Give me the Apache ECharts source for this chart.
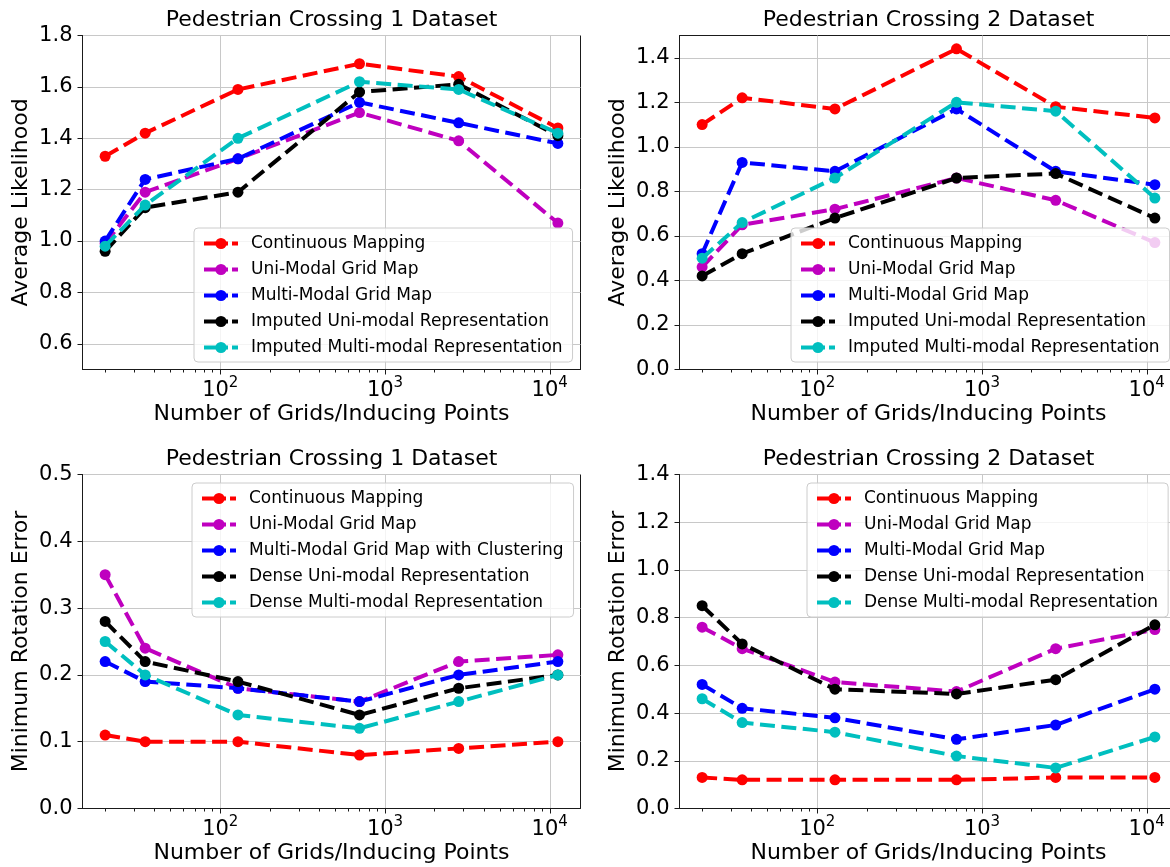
<!DOCTYPE html>
<html>
<head>
<meta charset="utf-8">
<script src="https://cdn.jsdelivr.net/npm/echarts@6/dist/echarts.min.js"></script>
<style>
  html, body { margin: 0; padding: 0; background: #ffffff; }
  #chart { width: 1170px; height: 867px; }
</style>
</head>
<body>
<div id="chart"></div>
<script>
// Number of grids / inducing points (x positions shared by every panel)
const gridCounts = [20, 35, 128, 700, 2800, 11200];

// Average likelihood, Pedestrian Crossing 1
const pc1LikContinuous = [1.33, 1.42, 1.59, 1.69, 1.64, 1.44];
const pc1LikUniGrid    = [0.99, 1.19, 1.32, 1.50, 1.39, 1.07];
const pc1LikMultiGrid  = [1.00, 1.24, 1.32, 1.54, 1.46, 1.38];
const pc1LikImpUni     = [0.96, 1.13, 1.19, 1.58, 1.61, 1.41];
const pc1LikImpMulti   = [0.98, 1.14, 1.40, 1.62, 1.59, 1.42];

// Average likelihood, Pedestrian Crossing 2
const pc2LikContinuous = [1.10, 1.22, 1.17, 1.44, 1.18, 1.13];
const pc2LikUniGrid    = [0.46, 0.65, 0.72, 0.86, 0.76, 0.57];
const pc2LikMultiGrid  = [0.52, 0.93, 0.89, 1.17, 0.89, 0.83];
const pc2LikImpUni     = [0.42, 0.52, 0.68, 0.86, 0.88, 0.68];
const pc2LikImpMulti   = [0.50, 0.66, 0.86, 1.20, 1.16, 0.77];

// Minimum rotation error, Pedestrian Crossing 1
const pc1RotContinuous = [0.11, 0.10, 0.10, 0.08, 0.09, 0.10];
const pc1RotUniGrid    = [0.35, 0.24, 0.18, 0.16, 0.22, 0.23];
const pc1RotMultiGrid  = [0.22, 0.19, 0.18, 0.16, 0.20, 0.22];
const pc1RotDenseUni   = [0.28, 0.22, 0.19, 0.14, 0.18, 0.20];
const pc1RotDenseMulti = [0.25, 0.20, 0.14, 0.12, 0.16, 0.20];

// Minimum rotation error, Pedestrian Crossing 2
const pc2RotContinuous = [0.13, 0.12, 0.12, 0.12, 0.13, 0.13];
const pc2RotUniGrid    = [0.76, 0.67, 0.53, 0.49, 0.67, 0.75];
const pc2RotMultiGrid  = [0.52, 0.42, 0.38, 0.29, 0.35, 0.50];
const pc2RotDenseUni   = [0.85, 0.69, 0.50, 0.48, 0.54, 0.77];
const pc2RotDenseMulti = [0.46, 0.36, 0.32, 0.22, 0.17, 0.30];

// Series names per panel
const likelihoodNames = ['Continuous Mapping', 'Uni-Modal Grid Map', 'Multi-Modal Grid Map',
  'Imputed Uni-modal Representation', 'Imputed Multi-modal Representation'];
const rotation1Names = ['Continuous Mapping', 'Uni-Modal Grid Map', 'Multi-Modal Grid Map with Clustering',
  'Dense Uni-modal Representation', 'Dense Multi-modal Representation'];
const rotation2Names = ['Continuous Mapping', 'Uni-Modal Grid Map', 'Multi-Modal Grid Map',
  'Dense Uni-modal Representation', 'Dense Multi-modal Representation'];

// Axis ticks
const xMajorTicks = [100, 1000, 10000];
const xMinorTicks = [20, 30, 40, 50, 60, 70, 80, 90, 200, 300, 400, 500, 600, 700, 800, 900,
  2000, 3000, 4000, 5000, 6000, 7000, 8000, 9000];
const lik1Ticks = [0.6, 0.8, 1.0, 1.2, 1.4, 1.6, 1.8];
const lik2Ticks = [0.0, 0.2, 0.4, 0.6, 0.8, 1.0, 1.2, 1.4];
const rot1Ticks = [0.0, 0.1, 0.2, 0.3, 0.4, 0.5];
const rot2Ticks = [0.0, 0.2, 0.4, 0.6, 0.8, 1.0, 1.2, 1.4];

const lineColors = ['#ff0000', '#bf00bf', '#0000ff', '#000000', '#00bfbf'];
const FONT = 'DejaVu Sans';
const INK = '#1a1a1a';
const GRIDLINE = '#c8c8c8';

// log-x range padded by 5% of the decade span on each side
const logLo = Math.log10(Math.min(...gridCounts));
const logHi = Math.log10(Math.max(...gridCounts));
const logPad = (logHi - logLo) * 0.05;
const xMin = Math.pow(10, logLo - logPad);
const xMax = Math.pow(10, logHi + logPad);

const panels = [
  { title: 'Pedestrian Crossing 1 Dataset', yName: 'Average Likelihood', yMin: 0.5, yMax: 1.8,
    yTicks: lik1Ticks, names: likelihoodNames,
    values: [pc1LikContinuous, pc1LikUniGrid, pc1LikMultiGrid, pc1LikImpUni, pc1LikImpMulti],
    box: { left: 82.5, top: 35.5 }, legend: { left: 194, top: 228 } },
  { title: 'Pedestrian Crossing 2 Dataset', yName: 'Average Likelihood', yMin: 0, yMax: 1.5,
    yTicks: lik2Ticks, names: likelihoodNames,
    values: [pc2LikContinuous, pc2LikUniGrid, pc2LikMultiGrid, pc2LikImpUni, pc2LikImpMulti],
    box: { left: 679.5, top: 35.5 }, legend: { left: 791, top: 228 } },
  { title: 'Pedestrian Crossing 1 Dataset', yName: 'Minimum Rotation Error', yMin: 0, yMax: 0.5,
    yTicks: rot1Ticks, names: rotation1Names,
    values: [pc1RotContinuous, pc1RotUniGrid, pc1RotMultiGrid, pc1RotDenseUni, pc1RotDenseMulti],
    box: { left: 82.5, top: 474.5 }, legend: { left: 192, top: 483 } },
  { title: 'Pedestrian Crossing 2 Dataset', yName: 'Minimum Rotation Error', yMin: 0, yMax: 1.4,
    yTicks: rot2Ticks, names: rotation2Names,
    values: [pc2RotContinuous, pc2RotUniGrid, pc2RotMultiGrid, pc2RotDenseUni, pc2RotDenseMulti],
    box: { left: 679.5, top: 474.5 }, legend: { left: 807, top: 483 } }
];

const PLOT_W = 498, PLOT_H = 334;

const option = {
  animation: false,
  backgroundColor: '#ffffff',
  textStyle: { fontFamily: FONT },
  title: [], grid: [], xAxis: [], yAxis: [], legend: [], series: []
};

panels.forEach((p, i) => {
  option.grid.push({
    left: p.box.left, top: p.box.top, width: PLOT_W, height: PLOT_H,
    containLabel: false, outerBoundsMode: 'none',
    show: true, borderColor: INK, borderWidth: 1, backgroundColor: 'transparent'
  });

  option.title.push({
    text: p.title, left: p.box.left + PLOT_W / 2, top: p.box.top - 26, textAlign: 'center', padding: 0,
    textStyle: { fontSize: 22, fontWeight: 'normal', fontFamily: FONT, color: '#000' }
  });

  // main log axis: decades, labels, grid lines
  option.xAxis.push({
    type: 'log', logBase: 10, gridIndex: i, position: 'bottom', min: xMin, max: xMax,
    axisLine: { show: true, lineStyle: { color: INK, width: 1 } },
    axisTick: { show: true, customValues: xMajorTicks, length: 5, lineStyle: { color: INK, width: 1 } },
    axisLabel: {
      customValues: xMajorTicks, margin: 6,
      formatter: v => '{b|10}{s|' + Math.round(Math.log10(v)) + '}',
      rich: {
        b: { fontSize: 21, fontFamily: FONT, color: '#000', lineHeight: 26, verticalAlign: 'bottom' },
        s: { fontSize: 15, fontFamily: FONT, color: '#000', lineHeight: 13, verticalAlign: 'top' }
      }
    },
    splitLine: { show: true, lineStyle: { color: GRIDLINE, width: 1 } },
    minorTick: { show: false }, minorSplitLine: { show: false },
    name: 'Number of Grids/Inducing Points', nameLocation: 'middle', nameGap: 34,
    nameTextStyle: { fontSize: 22, fontFamily: FONT, color: '#000' }
  });
  // companion log axis carrying the minor ticks
  option.xAxis.push({
    type: 'log', logBase: 10, gridIndex: i, position: 'bottom', min: xMin, max: xMax,
    axisLine: { show: false },
    axisTick: { show: true, customValues: xMinorTicks, length: 3, lineStyle: { color: INK, width: 1 } },
    axisLabel: { show: false },
    splitLine: { show: false }
  });

  option.yAxis.push({
    type: 'value', gridIndex: i, min: p.yMin, max: p.yMax,
    axisLine: { show: true, lineStyle: { color: INK, width: 1 } },
    axisTick: { show: true, customValues: p.yTicks, length: 5, lineStyle: { color: INK, width: 1 } },
    axisLabel: {
      customValues: p.yTicks, margin: 10, fontSize: 21, fontFamily: FONT, color: '#000',
      formatter: v => v.toFixed(1)
    },
    splitLine: { show: true, lineStyle: { color: GRIDLINE, width: 1 } },
    name: p.yName, nameLocation: 'middle', nameGap: 50,
    nameTextStyle: { fontSize: 22, fontFamily: FONT, color: '#000' }
  });

  option.legend.push({
    orient: 'vertical', left: p.legend.left, top: p.legend.top,
    data: p.names, selectedMode: false, z: 20,
    itemWidth: 34, itemHeight: 14, itemGap: 9, padding: [7, 10, 6, 8],
    backgroundColor: 'rgba(255,255,255,0.8)', borderColor: '#cccccc', borderWidth: 1, borderRadius: 4,
    lineStyle: { width: 4, type: [24, 4], cap: 'butt' },
    textStyle: { fontSize: 17, fontFamily: FONT, color: '#000', padding: [0, 0, 0, 8] }
  });

  p.values.forEach((vals, j) => {
    option.series.push({
      type: 'line', name: p.names[j], xAxisIndex: 2 * i, yAxisIndex: i,
      data: gridCounts.map((x, k) => [x, vals[k]]),
      symbol: 'circle', symbolSize: 11, showSymbol: true, showAllSymbol: true,
      lineStyle: { color: lineColors[j], width: 4, type: [15, 6.5], cap: 'butt' },
      itemStyle: { color: lineColors[j], borderWidth: 0 },
      emphasis: { disabled: true }, z: 3 + j, clip: false
    });
  });
});

const chart = echarts.init(document.getElementById('chart'), null, { renderer: 'canvas' });
chart.setOption(option);
</script>
</body>
</html>
